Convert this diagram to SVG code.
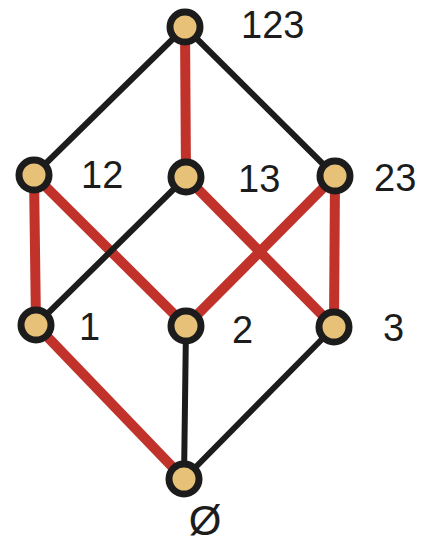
<svg xmlns="http://www.w3.org/2000/svg" width="422" height="545" viewBox="0 0 422 545">
<style>
.r{stroke:#C1322B;stroke-width:10;stroke-linecap:butt}
.k{stroke:#1c1c1c;stroke-width:6;stroke-linecap:round}
.n{fill:#E6C177;stroke:#1c1c1c;stroke-width:7}
.t{font-family:"Liberation Sans",Arial,sans-serif;font-size:38px;fill:#1c1c1c}
</style>
<rect width="422" height="545" fill="#fff"/>
<g id="connectors">
<line class="k" x1="185" y1="27" x2="34" y2="175"/>
<line class="r" x1="185" y1="27" x2="186" y2="177"/>
<line class="k" x1="185" y1="27" x2="335" y2="176"/>
<line class="r" x1="34" y1="175" x2="36" y2="325"/>
<line class="r" x1="34" y1="175" x2="186" y2="326"/>
<line class="k" x1="186" y1="177" x2="36" y2="325"/>
<line class="r" x1="186" y1="177" x2="334" y2="327"/>
<line class="r" x1="335" y1="176" x2="186" y2="326"/>
<line class="r" x1="335" y1="176" x2="334" y2="327"/>
<line class="r" x1="36" y1="325" x2="184" y2="479"/>
<line class="k" x1="186" y1="326" x2="184" y2="479"/>
<line class="k" x1="334" y1="327" x2="184" y2="479"/>
</g>
<g id="n123"><circle class="n" cx="185" cy="27" r="15"/><text class="t" x="241" y="38">123</text></g>
<g id="n12"><circle class="n" cx="34" cy="175" r="15"/><text class="t" x="81" y="188">12</text></g>
<g id="n13"><circle class="n" cx="186" cy="177" r="15"/><text class="t" x="238" y="192">13</text></g>
<g id="n23"><circle class="n" cx="335" cy="176" r="15"/><text class="t" x="374" y="191">23</text></g>
<g id="n1"><circle class="n" cx="36" cy="325" r="15"/><text class="t" x="79" y="340">1</text></g>
<g id="n2"><circle class="n" cx="186" cy="326" r="15"/><text class="t" x="232" y="343">2</text></g>
<g id="n3"><circle class="n" cx="334" cy="327" r="15"/><text class="t" x="383" y="341">3</text></g>
<g id="nempty"><circle class="n" cx="184" cy="479" r="15"/><text class="t" x="205" y="535" text-anchor="middle" style="font-size:42px">Ø</text></g>
</svg>
